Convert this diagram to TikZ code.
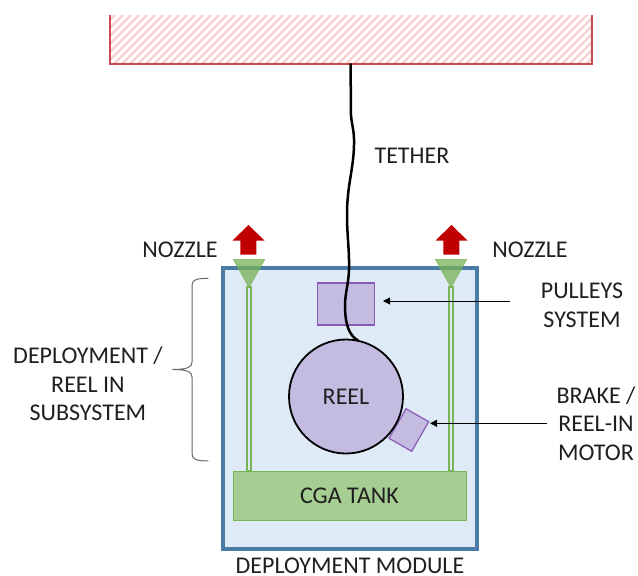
\documentclass[tikz,border=0pt]{standalone}
\usepackage{fontspec}
\setmainfont{Carlito}
\usetikzlibrary{arrows.meta}
\definecolor{hatchred}{HTML}{F9CFCF}
\definecolor{redline}{HTML}{C9494E}
\definecolor{modblue}{HTML}{4A7CA6}
\definecolor{modfill}{HTML}{DEEAF6}
\definecolor{purpfill}{HTML}{C4BBE0}
\definecolor{purpline}{HTML}{8A5AB8}
\definecolor{greenfill}{HTML}{A6CD92}
\definecolor{greenline}{HTML}{78B356}
\definecolor{arrowred}{HTML}{C00000}
\tikzset{
 lbl/.style={font=\fontsize{24}{28.7}\selectfont,text=black!88,inner sep=0pt,align=center},
 purp/.style={draw=purpline,fill=purpfill,line width=1.2pt},
 noz/.style={fill=greenline,fill opacity=.75,draw=greenline,draw opacity=.75,line width=.8pt},
 upred/.style={fill=arrowred,draw=none},
 tube/.style={draw=greenline,line width=1.1pt,fill=modfill},
 leader/.style={draw=black,line width=.8pt,-{Triangle[length=7pt,width=7pt]}},
 brace/.style={draw=black!60,line width=1pt}
}
\begin{document}
\begin{tikzpicture}[x=1pt,y=-1pt]
\useasboundingbox (0,0) rectangle (638,576);
% beam
\begin{scope}
\clip (110,15) rectangle (592,64);
\foreach \i in {-10,...,70}{\draw[hatchred,line width=2.4pt] (100+8*\i,70) -- (170+8*\i,0);}
\end{scope}
\draw[redline,line width=1.5pt] (110,15) -- (110,64) -- (592,64) -- (592,15);
% module
\node[draw=modblue,fill=modfill,line width=4pt,minimum width=254.5pt,minimum height=281pt,inner sep=0pt,outer sep=0pt,anchor=north west] (module) at (222.5,268) {};
% tubes
\path[tube] (247,287) rectangle (251,471);
\path[tube] (449,287) rectangle (453,471);
% tank
\node[draw=greenline,fill=greenfill,line width=1pt,minimum width=233pt,minimum height=49pt,outer sep=0pt,anchor=north west,lbl] (tank) at (233,471) {CGA TANK};
% pulleys
\node[purp,minimum width=57pt,minimum height=42pt,inner sep=0pt,outer sep=0pt,anchor=north west] (pulley) at (317.5,283) {};
% brake
\path[purp] (406,408.7) -- (428.7,421.7) -- (411.7,451.3) -- (389,438.3) -- cycle;
\coordinate (braketip) at (430,423.3);
\coordinate (pulleytip) at (383,301);
% reel
\node[circle,draw=black,fill=purpfill,line width=1.8pt,minimum size=114pt,inner sep=0pt,outer sep=0pt,lbl] (reel) at (346,396.5) {REEL};
% tether
\coordinate (tethertop) at (350.7,64);
\draw[black,line width=2.5pt,line cap=round] (tethertop) -- (350.8,110) .. controls (351,125) and (354.5,128) .. (354,145)
 .. controls (353.5,170) and (347,185) .. (347,215)
 .. controls (347,235) and (349.5,250) .. (349,270)
 .. controls (348.5,285) and (344.5,295) .. (345,308)
 .. controls (345.5,325) and (349,335) .. (358,340.5);
% nozzles
\path[noz] (233.5,259.5) -- (264.7,259.5) -- (249,287.5) -- cycle;
\path[noz] (435.5,259.5) -- (466.7,259.5) -- (451,287.5) -- cycle;
\path[upred] (248.5,225) -- (264.5,240.5) -- (256.3,240.5) -- (256.3,254.5) -- (240.3,254.5) -- (240.3,240.5) -- (232.5,240.5) -- cycle;
\path[upred] (451.5,225) -- (467.5,240.5) -- (459.3,240.5) -- (459.3,254.5) -- (443.3,254.5) -- (443.3,240.5) -- (435.5,240.5) -- cycle;
% labels
\node[lbl] (noz1) at (180,250) {NOZZLE};
\node[lbl] (noz2) at (530,250) {NOZZLE};
\node[lbl] (tether) at (412,156) {TETHER};
\node[lbl] (pulleys) at (582,305.5) {PULLEYS\\SYSTEM};
\node[lbl] (brake) at (596,423.5) {BRAKE /\\REEL-IN\\MOTOR};
\node[lbl] (deploy) at (88,384) {DEPLOYMENT /\\REEL IN\\SUBSYSTEM};
\node[lbl] (modlabel) at (350,566) {DEPLOYMENT MODULE};
% leaders
\coordinate (l1) at (510,301);
\coordinate (l2) at (546.7,423.3);
\draw[leader] (l1) -- (pulleytip);
\draw[leader] (l2) -- (braketip);
% brace
\draw[brace] (208.3,278.3) .. controls (198,278.5) and (192,279) .. (192,285)
 -- (192,362) .. controls (192,367) and (188,369.5) .. (172.3,369.5)
 .. controls (188,369.5) and (192,372) .. (192,377)
 -- (192,454) .. controls (192,460) and (198,460.8) .. (208.3,461);
\end{tikzpicture}
\end{document}
